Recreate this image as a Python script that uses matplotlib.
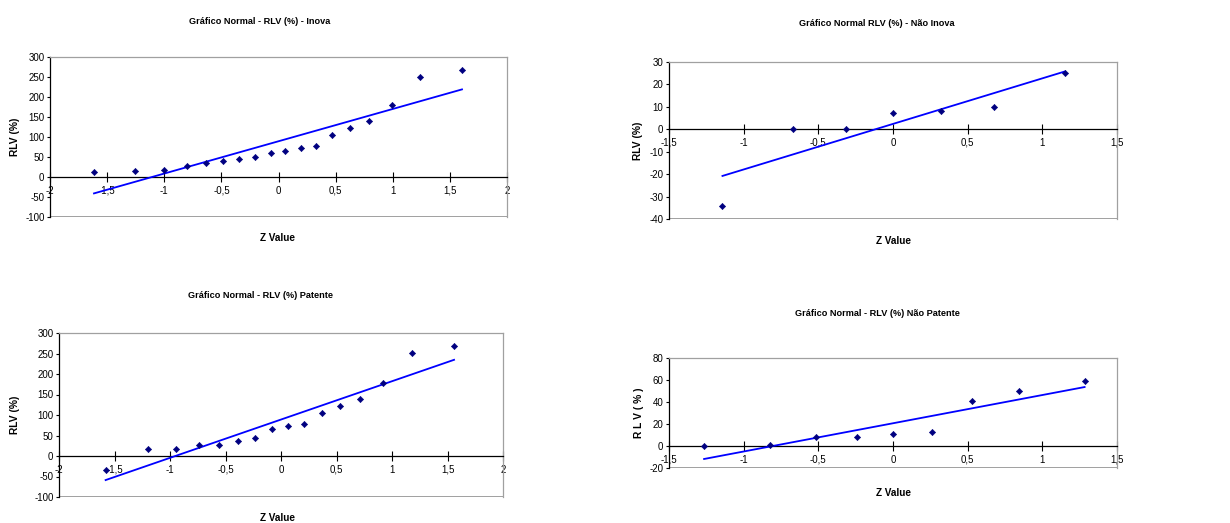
import matplotlib
matplotlib.use("Agg")
import matplotlib.pyplot as plt
from matplotlib.ticker import FuncFormatter

plt.rcParams['font.family'] = ['Liberation Sans', 'DejaVu Sans']
plt.rcParams['axes.unicode_minus'] = False

# Gráfico Normal - RLV (%) - Inova
inova_z = [-1.615, -1.253, -1.004, -0.803, -0.636, -0.485, -0.342, -0.207, -0.067,
           0.058, 0.196, 0.327, 0.470, 0.625, 0.791, 0.996, 1.241, 1.606]
inova_rlv = [12, 15, 17, 28, 35, 40, 45, 50, 60, 65, 73, 78, 105, 123, 140, 180, 250, 267]
inova_fit_z = [-1.615, 1.606]
inova_fit = [-41, 219]

# Gráfico Normal RLV (%) - Não Inova
nao_inova_z = [-1.142, -0.668, -0.313, 0.0, 0.322, 0.675, 1.152]
nao_inova_rlv = [-34, 0.2, 0.2, 7.2, 8.3, 9.9, 24.9]
nao_inova_fit_z = [-1.142, 1.152]
nao_inova_fit = [-20.8, 25.8]

# Gráfico Normal - RLV (%) Patente
patente_z = [-1.580, -1.201, -0.943, -0.739, -0.556, -0.390, -0.231, -0.081,
             0.060, 0.207, 0.369, 0.532, 0.715, 0.922, 1.183, 1.559]
patente_rlv = [-33, 16, 16, 26, 26, 36, 43, 65, 73, 78, 105, 122, 139, 179, 251, 268]
patente_fit_z = [-1.580, 1.559]
patente_fit = [-58.7, 234.6]

# Gráfico Normal - RLV (%) Não Patente
nao_patente_z = [-1.265, -0.825, -0.514, -0.244, 0.0, 0.262, 0.532, 0.845, 1.283]
nao_patente_rlv = [0, 1.2, 7.9, 7.9, 10.6, 12.7, 40.6, 50, 59.4]
nao_patente_fit_z = [-1.265, 1.283]
nao_patente_fit = [-11.8, 53.6]

W, H = 1230, 523


def px_rect(left, top, right, bottom):
    return [left / W, 1 - bottom / H, (right - left) / W, (bottom - top) / H]


def comma_fmt(v, pos):
    return f"{v:g}".replace('.', ',')


def draw_panel(fig, rect, z, rlv, fit_z, fit, xlim, ylim, ystep, title, title_xy,
               xlabel_xy, ylabel, ylabel_x):
    ax = fig.add_axes(rect)
    ax.plot(fit_z, fit, color='#0000ff', lw=1.3, zorder=3)
    ax.plot(z, rlv, linestyle='none', marker='D', markersize=3.2, markeredgewidth=0.4,
            color='#000080', zorder=4)
    ax.set_xlim(*xlim)
    ax.set_ylim(*ylim)

    xt = [xlim[0] + 0.5 * i for i in range(int(round((xlim[1] - xlim[0]) / 0.5)) + 1)]
    yt = list(range(ylim[0], ylim[1] + 1, ystep))
    ax.set_xticks(xt)
    ax.set_yticks(yt)
    ax.xaxis.set_major_formatter(FuncFormatter(comma_fmt))

    # excel-like axes: x axis crosses at 0, grey plot area border
    ax.spines['bottom'].set_position(('data', 0))
    ax.spines['bottom'].set_color('black')
    ax.spines['bottom'].set_linewidth(0.9)
    ax.spines['left'].set_color('black')
    ax.spines['left'].set_linewidth(0.9)
    for s in ('top', 'right'):
        ax.spines[s].set_color('#a0a0a0')
        ax.spines[s].set_linewidth(0.9)
    ax.axhline(ylim[0], color='#a0a0a0', lw=1.4, zorder=1)

    ax.tick_params(axis='x', direction='inout', length=6.5, width=0.8,
                   labelsize=7, pad=3)
    ax.tick_params(axis='y', direction='out', length=2.5, width=0.8,
                   labelsize=7, pad=1.5)

    fig.text(title_xy[0] / W, 1 - title_xy[1] / H, title, ha='center', va='center',
             fontsize=6.6, fontweight='bold')
    fig.text(xlabel_xy[0] / W, 1 - xlabel_xy[1] / H, 'Z Value', ha='center',
             va='center', fontsize=7.2, fontweight='bold')
    yc = (rect[1] + rect[3] / 2)
    fig.text(ylabel_x / W, yc, ylabel, ha='center', va='center', rotation=90,
             fontsize=7.4, fontweight='bold')
    return ax


fig = plt.figure(figsize=(12.3, 5.23), dpi=100)

draw_panel(fig, px_rect(50, 57, 507, 217), inova_z, inova_rlv, inova_fit_z, inova_fit,
           (-2, 2), (-100, 300), 50, 'Gráfico Normal - RLV (%) - Inova',
           (260, 21), (277, 238), 'RLV (%)', 15)

draw_panel(fig, px_rect(669, 62, 1117, 219), nao_inova_z, nao_inova_rlv,
           nao_inova_fit_z, nao_inova_fit, (-1.5, 1.5), (-40, 30), 10,
           'Gráfico Normal RLV (%) - Não Inova', (877, 23), (893, 241), 'RLV (%)', 638)

draw_panel(fig, px_rect(59, 333, 503, 497), patente_z, patente_rlv, patente_fit_z,
           patente_fit, (-2, 2), (-100, 300), 50, 'Gráfico Normal - RLV (%) Patente',
           (260, 296), (277, 518), 'RLV (%)', 15)

draw_panel(fig, px_rect(669, 358, 1117, 468), nao_patente_z, nao_patente_rlv,
           nao_patente_fit_z, nao_patente_fit, (-1.5, 1.5), (-20, 80), 20,
           'Gráfico Normal - RLV (%) Não Patente', (877, 314), (893, 493),
           'R L V ( % )', 639)

fig.savefig('out.png', dpi=100)
